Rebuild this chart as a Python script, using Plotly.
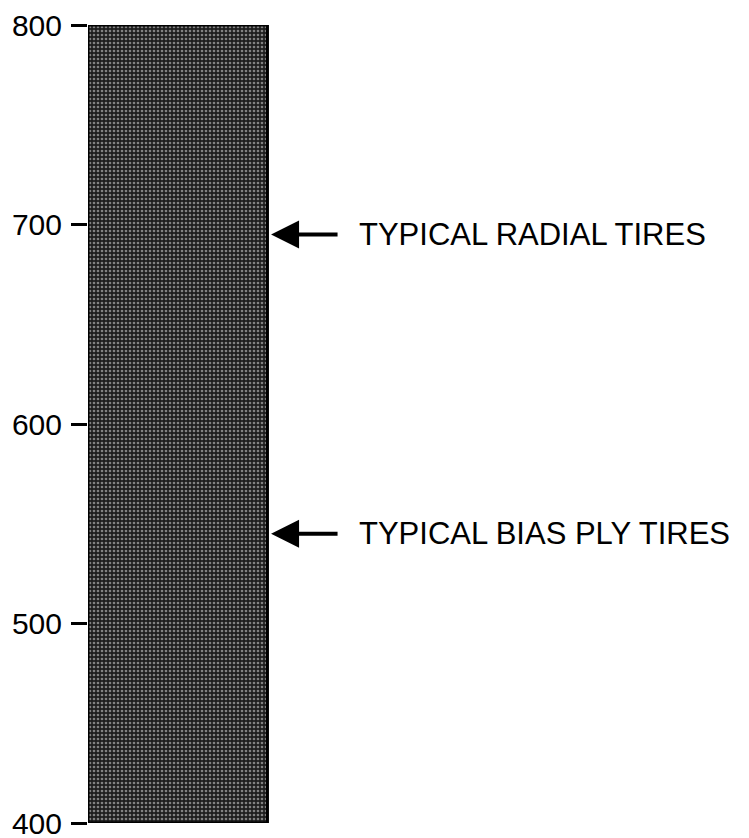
import plotly.graph_objects as go

# range of the bar (y axis units)
bar_bottom = 400
bar_top = 800
y_ticks = [400, 500, 600, 700, 800]

markers = ["TYPICAL RADIAL TIRES", "TYPICAL BIAS PLY TIRES"]
marker_values = [695, 545]

fig = go.Figure()

fig.add_trace(go.Bar(
    x=[0], y=[bar_top - bar_bottom], base=[bar_bottom], width=[1],
    marker=dict(
        color="#1e1e1e",
        line=dict(color="black", width=3),
        pattern=dict(shape=".", fgcolor="#e6e6e6", size=4, solidity=0.35),
    ),
    hoverinfo="skip", showlegend=False,
))

for label, val in zip(markers, marker_values):
    # arrow pointing at the bar
    fig.add_annotation(
        x=0.52, y=val, xref="x", yref="y", text="",
        showarrow=True, ax=68, ay=0, axref="pixel", ayref="pixel",
        arrowhead=2, arrowsize=1.4, arrowwidth=4, arrowcolor="black",
    )
    fig.add_annotation(
        x=1.0, y=val, xref="x", yref="y", text=label,
        showarrow=False, xanchor="left", yanchor="middle",
        font=dict(size=31, color="black", family="Liberation Sans, Arial, sans-serif"),
    )

# page body has an 8px margin, so the figure sits 8px right/down
fig.update_layout(
    width=749, height=838,
    margin=dict(l=80, r=5, t=17, b=23),
    paper_bgcolor="white", plot_bgcolor="white",
    font=dict(family="Liberation Sans, Arial, sans-serif", color="black"),
    xaxis=dict(range=[-0.5, 3.2], visible=False, fixedrange=True),
    yaxis=dict(
        range=[bar_bottom, bar_top], tickvals=y_ticks,
        ticks="outside", ticklen=16, tickwidth=2.5, tickcolor="black",
        showline=False, showgrid=False, zeroline=False,
        tickfont=dict(size=30, color="black"), ticklabelstandoff=3,
        ticklabeloverflow="allow", automargin=False,
    ),
)

fig.write_html("out.html")
